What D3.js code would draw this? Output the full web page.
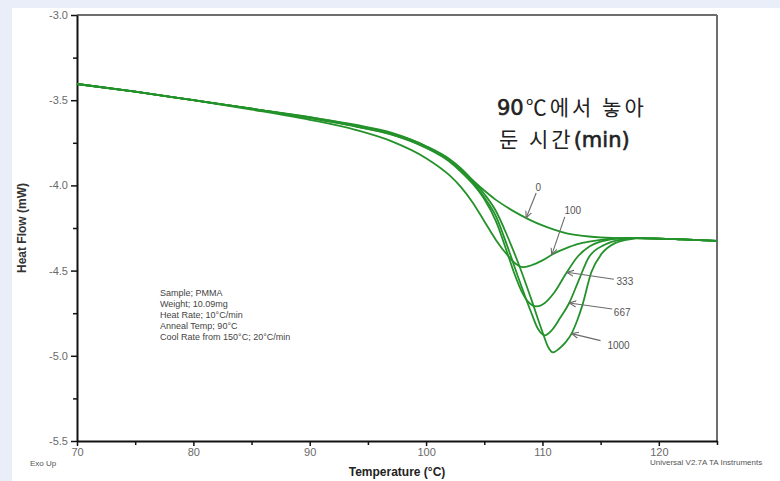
<!DOCTYPE html>
<html>
<head>
<meta charset="utf-8">
<script src="https://cdn.jsdelivr.net/npm/d3@7/dist/d3.min.js"></script>
<style>
  html, body { margin: 0; padding: 0; background: #e9eef8; }
  svg { display: block; }
</style>
</head>
<body>
<svg id="chart" width="780" height="481"></svg>
<script>
// DSC heat flow of PMMA after annealing at 90 °C for different times (min)
const xTicks = [70, 80, 90, 100, 110, 120];
const xMinorTicks = [75, 85, 95, 105, 115, 125];
const yTicks = [-3.0, -3.5, -4.0, -4.5, -5.0, -5.5];
const yMinorTicks = [-3.25, -3.75, -4.25, -4.75, -5.25];

// [temperature °C, heat flow mW]
const run0 = [[70,-3.405],[75,-3.45],[80,-3.50],[85,-3.55],[90,-3.60],[94,-3.645],[97,-3.69],[100,-3.77],[102,-3.85],[103,-3.91],[104,-3.97],[105,-4.03],[106,-4.085],[107,-4.13],[108,-4.17],[109,-4.205],[110,-4.235],[111,-4.26],[112,-4.28],[113,-4.292],[114,-4.30],[115,-4.305],[116,-4.308],[118,-4.31],[120,-4.312],[122,-4.317],[125,-4.325]];
const run100 = [[70,-3.405],[75,-3.45],[80,-3.50],[85,-3.555],[90,-3.615],[94,-3.675],[97,-3.74],[100,-3.84],[102,-3.94],[103,-4.01],[104,-4.10],[105,-4.21],[106,-4.32],[107,-4.41],[107.7,-4.46],[108.3,-4.48],[109,-4.47],[110,-4.44],[111,-4.40],[112,-4.37],[113,-4.345],[114,-4.33],[115,-4.32],[116,-4.313],[118,-4.31],[120,-4.312],[122,-4.317],[125,-4.325]];
const run333 = [[70,-3.405],[75,-3.45],[80,-3.50],[85,-3.55],[90,-3.605],[94,-3.655],[97,-3.70],[100,-3.78],[102,-3.86],[103,-3.92],[104,-3.99],[105,-4.08],[106,-4.21],[107,-4.40],[107.6,-4.52],[108.2,-4.62],[108.8,-4.685],[109.5,-4.71],[110.2,-4.69],[111,-4.63],[112,-4.52],[113,-4.42],[114,-4.36],[115,-4.33],[116,-4.315],[117,-4.31],[118,-4.31],[120,-4.312],[122,-4.317],[125,-4.325]];
const run667 = [[70,-3.405],[75,-3.45],[80,-3.50],[85,-3.55],[90,-3.605],[94,-3.655],[97,-3.70],[100,-3.775],[102,-3.85],[103,-3.905],[104,-3.98],[105,-4.07],[106,-4.18],[107,-4.36],[108,-4.555],[109,-4.74],[109.6,-4.84],[110.2,-4.88],[110.8,-4.85],[111.5,-4.78],[112.3,-4.69],[113.1,-4.56],[114,-4.42],[115.3,-4.35],[116,-4.33],[117,-4.315],[118,-4.31],[120,-4.312],[122,-4.317],[125,-4.325]];
const run1000 = [[70,-3.405],[75,-3.45],[80,-3.50],[85,-3.55],[90,-3.60],[94,-3.65],[97,-3.695],[100,-3.77],[102,-3.845],[103,-3.90],[104,-3.97],[105,-4.05],[106,-4.15],[107,-4.30],[108,-4.47],[109,-4.66],[110,-4.86],[110.5,-4.95],[110.9,-4.98],[111.4,-4.96],[112,-4.92],[112.5,-4.87],[113,-4.79],[113.4,-4.71],[114.2,-4.51],[115.1,-4.40],[116.2,-4.34],[117.6,-4.315],[118.5,-4.31],[120,-4.312],[122,-4.317],[125,-4.325]];

const runLabels = ["0", "100", "333", "667", "1000"];
const runs = [run0, run100, run333, run667, run1000];
// temperature where each label's arrow touches its curve
const arrowAt = [108.6, 110.8, 112.1, 112.3, 112.5];

const infoLines = ["Sample; PMMA", "Weight; 10.09mg", "Heat Rate; 10°C/min", "Anneal Temp; 90°C", "Cool Rate from 150°C; 20°C/min"];
// heading pieces: [text, latin]
const titleLine1 = [["90", true], ["℃에서 놓아", false]];
const titleLine2 = [["둔 시간", false], ["(min)", true]];

const svg = d3.select("#chart");
const plotL = 77, plotR = 717, plotT = 15, plotB = 441;

// white page
svg.append("rect").attr("x", 12).attr("y", 8).attr("width", 768).attr("height", 473).attr("fill", "#ffffff");

const x = d3.scaleLinear().domain([70, 125]).range([plotL, plotR]);
const y = d3.scaleLinear().domain([-5.5, -3.0]).range([plotB, plotT]);

// frame: top and right borders
svg.append("line").attr("x1", plotL).attr("x2", plotR).attr("y1", plotT).attr("y2", plotT)
  .attr("stroke", "#6e6e6e").attr("stroke-width", 2);
svg.append("line").attr("x1", plotR).attr("x2", plotR).attr("y1", plotT).attr("y2", plotB)
  .attr("stroke", "#6e6e6e").attr("stroke-width", 2);

const tickFont = "Liberation Sans, Arial, sans-serif";
const hyphenFmt = d => d3.format(".1f")(d).replace("\u2212", "-");

// left axis
const gy = svg.append("g").attr("transform", `translate(${plotL},0)`)
  .call(d3.axisLeft(y).tickValues(yTicks).tickSize(6).tickSizeOuter(0).tickFormat(hyphenFmt));
svg.append("g").attr("transform", `translate(${plotL},0)`)
  .call(d3.axisLeft(y).tickValues(yMinorTicks).tickSize(4).tickSizeOuter(0).tickFormat(""))
  .call(g => g.select(".domain").remove());

// bottom axis
const gx = svg.append("g").attr("transform", `translate(0,${plotB})`)
  .call(d3.axisBottom(x).tickValues(xTicks).tickSize(5).tickSizeOuter(0).tickFormat(d3.format("d")));
svg.append("g").attr("transform", `translate(0,${plotB})`)
  .call(d3.axisBottom(x).tickValues(xMinorTicks).tickSize(4).tickSizeOuter(0).tickFormat(""))
  .call(g => g.select(".domain").remove());

svg.selectAll(".domain").attr("stroke", "#111").attr("stroke-width", 2);
svg.selectAll(".tick line").attr("stroke", "#111").attr("stroke-width", 1.5);
svg.selectAll(".tick text").attr("fill", "#6a6a6a").attr("font-family", tickFont).attr("font-size", 11);
gy.selectAll(".tick text").attr("x", -9);
gx.selectAll(".tick text").attr("y", 7);

// axis titles
svg.append("text").attr("x", 397).attr("y", 476).attr("text-anchor", "middle")
  .attr("font-family", tickFont).attr("font-weight", "bold").attr("font-size", 12).attr("fill", "#222")
  .text("Temperature (°C)");
svg.append("text").attr("transform", "translate(26,228) rotate(-90)").attr("text-anchor", "middle")
  .attr("font-family", tickFont).attr("font-weight", "bold").attr("font-size", 12).attr("fill", "#333")
  .text("Heat Flow (mW)");
svg.append("text").attr("x", 30).attr("y", 466).attr("font-family", tickFont).attr("font-size", 8).attr("fill", "#555")
  .text("Exo Up");
svg.append("text").attr("x", 650).attr("y", 465).attr("font-family", tickFont).attr("font-size", 8).attr("fill", "#555")
  .text("Universal V2.7A TA Instruments");

// curves
const line = d3.line().x(d => x(d[0])).y(d => y(d[1])).curve(d3.curveMonotoneX);
svg.append("g").selectAll("path").data(runs).join("path")
  .attr("d", line).attr("fill", "none")
  .attr("stroke", "#24922a").attr("stroke-width", 1.8).attr("stroke-linejoin", "round");

// arrows from labels to curves
svg.append("defs").append("marker").attr("id", "head")
  .attr("viewBox", "0 0 10 10").attr("refX", 9).attr("refY", 5)
  .attr("markerWidth", 7).attr("markerHeight", 7).attr("orient", "auto")
  .append("path").attr("d", "M0,1 L9,5 L0,9").attr("fill", "none").attr("stroke", "#6a6a6a").attr("stroke-width", 1.4);

const valueAt = (run, t) => {
  const i = d3.bisector(d => d[0]).left(run, t);
  const a = run[Math.max(0, i - 1)], b = run[Math.min(run.length - 1, i)];
  if (a[0] === b[0]) return a[1];
  return a[1] + (b[1] - a[1]) * (t - a[0]) / (b[0] - a[0]);
};

// label anchor positions relative to arrow tip
const labelOffset = [[12, -30], [21, -44], [58, 10], [53, 10], [47, 13]];
const arrowTail = [[10, -25], [13, -38], [47, 7], [43, 6], [29, 7]];
runLabels.forEach((lab, i) => {
  const tx = x(arrowAt[i]), ty = y(valueAt(runs[i], arrowAt[i]));
  svg.append("line")
    .attr("x1", tx + arrowTail[i][0]).attr("y1", ty + arrowTail[i][1])
    .attr("x2", tx).attr("y2", ty)
    .attr("stroke", "#6a6a6a").attr("stroke-width", 1.1).attr("marker-end", "url(#head)");
  svg.append("text").attr("x", tx + labelOffset[i][0]).attr("y", ty + labelOffset[i][1])
    .attr("text-anchor", "middle").attr("dominant-baseline", "middle")
    .attr("font-family", tickFont).attr("font-size", 10).attr("fill", "#555").text(lab);
});

// sample information
svg.append("g").selectAll("text").data(infoLines).join("text")
  .attr("x", 160).attr("y", (d, i) => 296 + i * 11)
  .attr("font-family", tickFont).attr("font-size", 9).attr("fill", "#444").text(d => d);

// annotation heading
[titleLine1, titleLine2].forEach((parts, i) => {
  const t = svg.append("text").attr("x", 497).attr("y", 115 + i * 32)
    .attr("font-size", 21).attr("fill", "#222");
  t.selectAll("tspan").data(parts).join("tspan")
    .attr("font-family", d => d[1] ? "'DejaVu Sans', sans-serif" : "'Noto Sans CJK KR', sans-serif")
    .attr("stroke", d => d[1] ? "#222" : "none")
    .attr("stroke-width", d => d[1] ? 0.6 : 0)
    .attr("letter-spacing", d => d[1] ? 0 : 3)
    .attr("dx", d => d[1] ? 0 : 2)
    .text(d => d[0]);
});
</script>
</body>
</html>
